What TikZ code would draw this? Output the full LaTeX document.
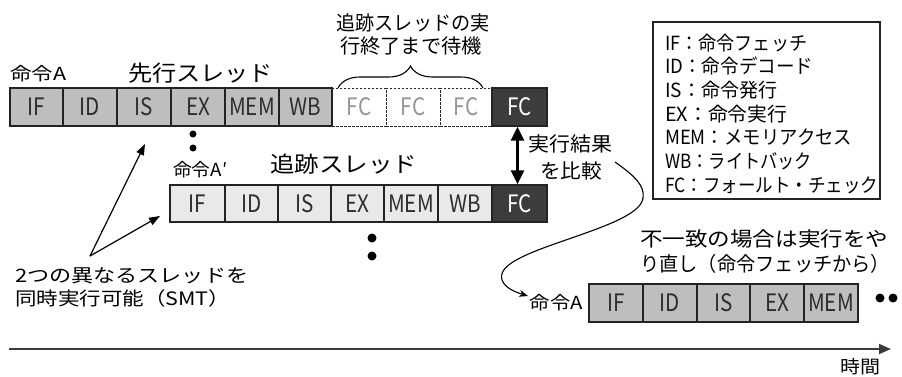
\documentclass[tikz,border=0pt]{standalone}
\usepackage{fontspec}
\usepackage{graphicx}
\setmainfont{Noto Sans CJK JP}
\newfontfamily\condfont[FakeStretch=0.86]{Noto Sans CJK JP}
\usetikzlibrary{arrows.meta,decorations.pathreplacing}
\definecolor{gA}{RGB}{190,190,190}
\definecolor{gB}{RGB}{233,233,233}
\definecolor{dk}{RGB}{60,60,60}
\definecolor{ln}{RGB}{35,35,35}
\definecolor{tx}{RGB}{45,45,45}
\definecolor{fcg}{RGB}{150,150,150}
\newcommand\wfit[2]{\resizebox{#1}{\height}{#2}}
\begin{document}
\begin{tikzpicture}[x=1pt,y=-1pt,
  stage/.style={draw=ln, line width=1.2pt, inner sep=0pt, minimum height=38pt,
    font=\condfont\fontsize{24}{26}\selectfont, text=tx},
  sA/.style={stage, fill=gA},
  sB/.style={stage, fill=gB, minimum height=37pt},
  sD/.style={stage, fill=white, line width=1pt, dash pattern=on 2.5pt off 1.5pt, text=fcg},
  sF/.style={stage, fill=dk, text=white},
  lbl/.style={inner sep=0pt, text=black},
  f18/.style={font=\fontsize{18}{18}\selectfont},
  f20/.style={font=\fontsize{20}{20}\selectfont},
  f22/.style={font=\fontsize{22}{22}\selectfont},
  fleg/.style={font=\fontsize{19.5}{20}\selectfont},
  thin/.style={line width=1.2pt, draw=black},
  dotb/.style={fill=black}]
\fill[white] (0,0) rectangle (902,376);
\useasboundingbox (0,0) rectangle (902,376);

% ---- row 1 (leading thread)
\node[sD, minimum width=54pt] (ad1) at (359,107) {FC};
\node[sD, minimum width=54pt] (ad2) at (413,107) {FC};
\node[sD, minimum width=52pt] (ad3) at (466,107) {FC};
\node[sA, minimum width=53pt] (a1) at (36.5,107) {IF};
\node[sA, minimum width=54pt] (a2) at (90,107) {ID};
\node[sA, minimum width=54pt] (a3) at (144,107) {IS};
\node[sA, minimum width=54pt] (a4) at (198,107) {EX};
\node[sA, minimum width=54pt] (a5) at (252,107) {MEM};
\node[sA, minimum width=53pt] (a6) at (305.5,107) {WB};
\node[sF, minimum width=55pt] (afc) at (519.5,107) {FC};

% ---- row 2 (trailing thread)
\node[sB, minimum width=55pt] (b1) at (197.5,203.5) {IF};
\node[sB, minimum width=53pt] (b2) at (251.5,203.5) {ID};
\node[sB, minimum width=53pt] (b3) at (304.5,203.5) {IS};
\node[sB, minimum width=53pt] (b4) at (357.5,203.5) {EX};
\node[sB, minimum width=54pt] (b5) at (411,203.5) {MEM};
\node[sB, minimum width=54pt] (b6) at (465,203.5) {WB};
\node[sF, minimum width=55pt, minimum height=37pt] (bfc) at (519.5,203.5) {FC};

% ---- row 3 (re-execution)
\node[sA, minimum width=54pt] (c1) at (616,303) {IF};
\node[sA, minimum width=54pt] (c2) at (670,303) {ID};
\node[sA, minimum width=53pt] (c3) at (723.5,303) {IS};
\node[sA, minimum width=54pt] (c4) at (777,303) {EX};
\node[sA, minimum width=54pt] (c5) at (831,303) {MEM};

% ---- labels
\node[lbl, f18, anchor=west] (la) at (10,73.5) {\wfit{56pt}{命令A}};
\node[lbl, f22] (h1) at (200.5,73) {\wfit{145pt}{先行スレッド}};
\node[lbl, f18, anchor=west] (lb) at (173,170) {\wfit{54pt}{命令A′}};
\node[lbl, f22] (h2) at (343.5,164) {\wfit{147pt}{追跡スレッド}};
\node[lbl, f18, anchor=east] (lc) at (583,303) {\wfit{53pt}{命令A}};

\node[lbl, f20] (w1) at (413,23) {\wfit{153pt}{追跡スレッドの実}};
\node[lbl, f20] (w2) at (411,46) {\wfit{142pt}{行終了まで待機}};
\draw[decorate, decoration={brace, amplitude=22pt}, line width=1.1pt] (338,88) -- (483,88);

\node[lbl, f20] (k1) at (570,144) {\wfit{84pt}{実行結果}};
\node[lbl, f20] (k2) at (571,171) {\wfit{62pt}{を比較}};

\node[lbl, f20, anchor=west] (m1) at (640,239) {\wfit{248pt}{不一致の場合は実行をや}};
\node[lbl, f20, anchor=west] (m2) at (640,264) {\wfit{250pt}{り直し（命令フェッチから）}};

\node[lbl, font=\fontsize{18.5}{18.5}\selectfont, anchor=west] (p1) at (15,276) {\wfit{233pt}{2つの異なるスレッドを}};
\node[lbl, font=\fontsize{18.5}{18.5}\selectfont, anchor=west] (p2) at (15,298) {\wfit{215pt}{同時実行可能（SMT）}};

\node[lbl, f18] (tm) at (860,367) {\wfit{40pt}{時間}};

% ---- legend
\node[draw=ln, line width=1.2pt, minimum width=227pt, minimum height=177pt, inner sep=0pt] (leg) at (766.5,110.5) {};
\node[lbl, fleg, anchor=west] (g1) at (665,42.7) {\wfit{142pt}{IF：命令フェッチ}};
\node[lbl, fleg, anchor=west] (g2) at (665,66.4) {\wfit{148pt}{ID：命令デコード}};
\node[lbl, fleg, anchor=west] (g3) at (665,90.1) {\wfit{112pt}{IS：命令発行}};
\node[lbl, fleg, anchor=west] (g4) at (665,113.8) {\wfit{122pt}{EX：命令実行}};
\node[lbl, fleg, anchor=west] (g5) at (665,137.5) {\wfit{187pt}{MEM：メモリアクセス}};
\node[lbl, fleg, anchor=west] (g6) at (665,161.2) {\wfit{147pt}{WB：ライトバック}};
\node[lbl, fleg, anchor=west] (g7) at (665,184.9) {\wfit{213pt}{FC：フォールト・チェック}};

% ---- dots
\fill[dotb] (193,134) circle[radius=3.5pt];
\fill[dotb] (193,148) circle[radius=3.5pt];
\fill[dotb] (372,238) circle[radius=4.5pt];
\fill[dotb] (372,256) circle[radius=4.5pt];
\fill[dotb] (880,298) circle[radius=4.5pt];
\fill[dotb] (893,298) circle[radius=4.5pt];

% ---- connectors
\draw[line width=2.6pt, {Triangle[length=14pt,width=13pt]}-{Triangle[length=14pt,width=13pt]}]
  ([xshift=-2pt]afc.south) -- ([xshift=-2pt]bfc.north);

\coordinate (cs) at (615,162);
\coordinate (ce) at (528,296);
\draw[line width=1.1pt, -{Stealth[length=9pt,width=7pt]}] (cs)
  .. controls (635,176) and (645,186) .. (643,198)
  .. controls (641,215) and (600,228) .. (560,242)
  .. controls (520,256) and (498,266) .. (502,280)
  .. controls (505,288) and (515,292) .. (ce);

\coordinate (smt) at (90,256);
\coordinate (st1) at (145,144);
\coordinate (st2) at (160,216);
\draw[thin, -{Triangle[length=11pt,width=8pt]}] (smt) -- (st1);
\draw[thin, -{Triangle[length=11pt,width=8pt]}] (smt) -- (st2);

\coordinate (t0) at (9,349);
\coordinate (t1) at (891,349);
\draw[line width=1.8pt, draw=dk, -{Triangle[length=12pt,width=10pt]}] (t0) -- (t1);
\end{tikzpicture}
\end{document}
